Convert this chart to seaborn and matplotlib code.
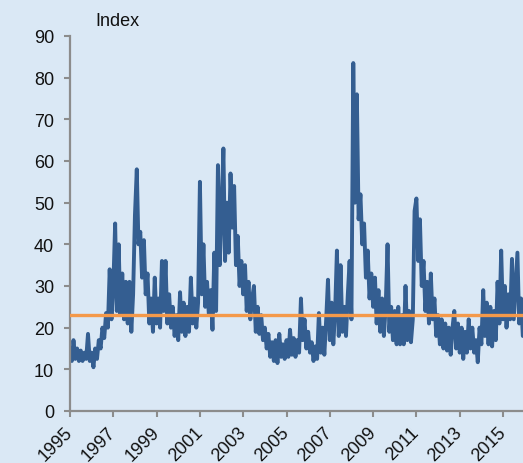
import pandas as pd
import matplotlib
matplotlib.use('Agg')
import matplotlib.pyplot as plt
import seaborn as sns

# monthly readings of the index (high / low alternating)
idx_1995 = [15, 12, 17, 12.5, 15, 12, 14.5, 12, 14, 12.5, 18.5, 12]
idx_1996 = [14, 10.5, 15, 12.5, 17, 15, 20, 17.5, 23.5, 20, 34, 22]
idx_1997 = [30, 45, 24, 40, 23, 33, 22, 31, 21, 31, 19, 28]
idx_1998 = [47, 58, 40, 43, 32, 41, 28, 33, 21, 27, 19, 32]
idx_1999 = [21, 27, 20, 36, 24, 36, 21, 28, 20, 25, 18, 23]
idx_2000 = [17, 28.5, 19, 26, 18, 25, 19, 32, 21, 27, 20, 26]
idx_2001 = [55, 28, 40, 25, 31, 23, 29, 19.5, 38, 24, 59, 35]
idx_2002 = [48, 63, 36, 50, 38, 57, 44, 54, 35, 42, 30, 36]
idx_2003 = [28, 35, 24, 31, 22, 27, 30, 19, 25, 18.5, 23, 17]
idx_2004 = [20, 15, 18.5, 13, 16.5, 12, 17, 11.5, 18.5, 13, 16, 12.5]
idx_2005 = [17, 13, 19.5, 13.5, 17.5, 13, 17, 14, 27, 17, 22, 15]
idx_2006 = [19, 14, 16.5, 12, 15.5, 12.5, 23.5, 14, 20, 13.5, 22, 31.5]
idx_2007 = [17, 26, 16, 24, 38.5, 18, 35, 19, 25, 18, 28, 36]
idx_2008 = [22, 83.5, 50, 76, 46, 52, 40, 45, 32, 38.5, 27, 33]
idx_2009 = [25, 32, 21, 29, 19, 27, 18, 25, 40, 19, 25, 17]
idx_2010 = [24, 16, 25, 16, 23, 16, 30, 17, 24, 16.5, 22, 48]
idx_2011 = [51, 36, 46, 30, 36, 24, 31, 21, 33, 22, 27, 18]
idx_2012 = [23, 16, 22, 15, 21, 14.5, 20, 13.5, 20, 24, 15, 21]
idx_2013 = [14, 20, 12.5, 19, 14, 22, 15, 20, 14, 17, 11.7, 20]
idx_2014 = [16, 29, 18, 26, 16, 25, 15.5, 24, 17, 31, 21, 38.5]
idx_2015 = [22, 30, 20, 28, 22, 36.5, 22, 30, 38, 21, 27, 18]

avg_level = 23.0
tick_years = list(range(1995, 2016, 2))

values = (idx_1995 + idx_1996 + idx_1997 + idx_1998 + idx_1999 + idx_2000
          + idx_2001 + idx_2002 + idx_2003 + idx_2004 + idx_2005 + idx_2006
          + idx_2007 + idx_2008 + idx_2009 + idx_2010 + idx_2011 + idx_2012
          + idx_2013 + idx_2014 + idx_2015)
df = pd.DataFrame({'date': pd.date_range('1995-01-01', periods=len(values), freq='MS'),
                   'index': values})

bg = '#dae8f5'
sns.set_style('ticks')
plt.rcParams['font.family'] = ['Liberation Sans', 'DejaVu Sans']

fig = plt.figure(figsize=(5.23, 4.64), dpi=100)
fig.patch.set_facecolor(bg)
ax = fig.add_axes([0.1338, 0.1121, 0.8662, 0.8082])
ax.set_facecolor(bg)

sns.lineplot(data=df, x='date', y='index', color='#345e91', linewidth=2.8, ax=ax)
ax.axhline(avg_level, color='#f4994a', linewidth=2.4, zorder=3)

ax.set_ylim(0, 90)
ax.set_yticks(range(0, 91, 10))
ax.set_xlim(pd.Timestamp('1995-01-01'), pd.Timestamp('2015-12-04'))
ax.set_xticks([pd.Timestamp(f'{y}-01-01') for y in tick_years])
ax.set_xticklabels([str(y) for y in tick_years], rotation=45, ha='right',
                   va='center', rotation_mode='anchor')
ax.set_xlabel('')
ax.set_ylabel('')

for s in ['top', 'right']:
    ax.spines[s].set_visible(False)
for s in ['left', 'bottom']:
    ax.spines[s].set_color('#8c8c8c')
    ax.spines[s].set_linewidth(1.6)
ax.tick_params(axis='both', colors='#8c8c8c', labelcolor='#111111', labelsize=13,
               length=4.5, width=1.5)
ax.tick_params(axis='y', pad=7)
ax.tick_params(axis='x', pad=9)

fig.text(0.1816, 0.9547, 'Index', fontsize=13, ha='left', va='center', color='#111111')

fig.savefig('out.png', dpi=100, facecolor=bg)
